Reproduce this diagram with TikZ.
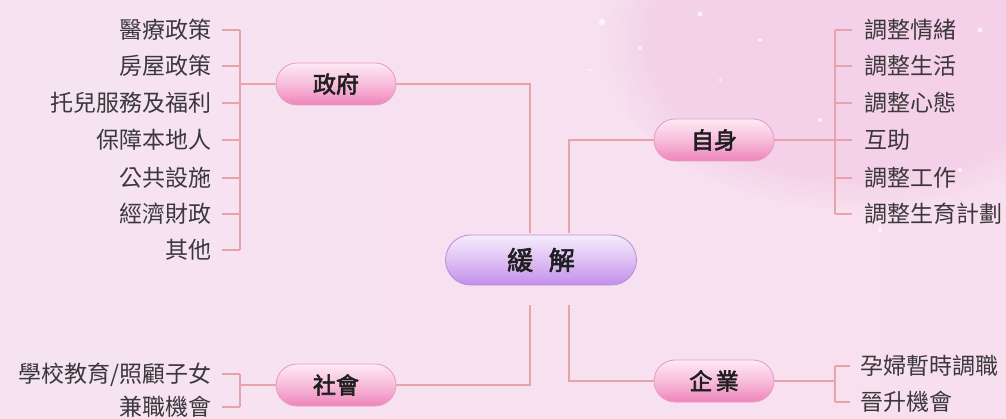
\documentclass[tikz,border=0pt]{standalone}
\usepackage{fontspec}
\setmainfont{Noto Sans CJK TC}
\newfontfamily\cjkbold{Noto Sans CJK TC}[FakeBold=2.5]
\usetikzlibrary{shapes.misc,fadings}
\definecolor{bgA}{HTML}{F6E3F1}
\definecolor{bgB}{HTML}{FCF2F8}
\definecolor{bgC}{HTML}{F8DFEF}
\definecolor{glow}{HTML}{F0C0E0}
\definecolor{linec}{HTML}{E8A2AA}
\definecolor{leafc}{HTML}{3A383A}
\definecolor{pinkT}{HTML}{FDEAF4}
\definecolor{pinkM}{HTML}{F8BDDB}
\definecolor{pinkB}{HTML}{EE84BB}
\definecolor{pinkD}{HTML}{E79BC4}
\definecolor{purT}{HTML}{F6EDFC}
\definecolor{purM}{HTML}{DEC0F4}
\definecolor{purB}{HTML}{C28FE9}
\definecolor{purD}{HTML}{B88CDD}
\tikzset{
  conn/.style={draw=linec, line width=2pt},
  leafL/.style={anchor=east, inner sep=0pt, text=leafc, font=\fontsize{23}{24}\selectfont, text height=20.2pt, text depth=2.8pt},
  leafR/.style={anchor=west, inner sep=0pt, text=leafc, font=\fontsize{23}{24}\selectfont, text height=20.2pt, text depth=2.8pt},
  pill/.style={rounded rectangle, draw=pinkD, line width=0.8pt, top color=pinkT, bottom color=pinkB, middle color=pinkM,
    minimum width=120pt, minimum height=42pt, inner sep=0pt, text=black!88,
    font=\cjkbold\fontsize{23}{24}\selectfont},
  cpill/.style={rounded rectangle, draw=purD, line width=0.8pt, top color=purT, bottom color=purB, middle color=purM,
    minimum width=191pt, minimum height=50pt, inner sep=0pt, text=black!88,
    font=\cjkbold\fontsize{26}{28}\selectfont}
}
\begin{document}
\begin{tikzpicture}[x=1pt,y=-1pt]
\useasboundingbox (0,0) rectangle (1006,419);
% background
\shade[left color=bgA, middle color=bgB, right color=bgC] (0,0) rectangle (1006,419);
\fill[glow, opacity=0.45, path fading=circle with fuzzy edge 20 percent] (860,40) ellipse (260 and 170);
\foreach \p/\r in {{(602,22)/3},{(640,48)/2},{(700,14)/2.5},{(760,40)/2},{(890,60)/3},{(940,110)/2},{(980,30)/2.5},{(820,120)/2},{(960,170)/2},{(720,80)/1.5},{(590,70)/1.5},{(880,230)/2}}
  \fill[white, opacity=0.7] \p circle (\r);

% main nodes
\node[cpill] (c) at (541,260) {緩\hspace{0.6em}解};
\node[pill] (g) at (336,84) {政府};
\node[pill] (s) at (714,140) {自身};
\node[pill] (so) at (336,385) {社會};
\node[pill] (e) at (714,381) {企\hspace{0.15em}業};

% trunk coordinates
\coordinate (tl) at (530,233);
\coordinate (tr) at (569,233);
\coordinate (bl) at (530,305);
\coordinate (br) at (569,305);
\draw[conn] (g.east) -- (g.east -| tl) -- (tl);
\draw[conn] (s.west) -- (s.west -| tr) -- (tr);
\draw[conn] (so.east) -- (so.east -| bl) -- (bl);
\draw[conn] (e.west) -- (e.west -| br) -- (br);

% government leaves
\coordinate (gb) at (240,84);
\node[leafL] (g1) at (212,30) {醫療政策};
\node[leafL] (g2) at (212,66) {房屋政策};
\node[leafL] (g3) at (212,103) {托兒服務及福利};
\node[leafL] (g4) at (212,140) {保障本地人};
\node[leafL] (g5) at (212,178) {公共設施};
\node[leafL] (g6) at (212,214) {經濟財政};
\node[leafL] (g7) at (212,250) {其他};
\draw[conn] (g.west) -- (gb);
\draw[conn] (g1.east -| gb) -- (g7.east -| gb);
\foreach \n in {g1,g2,g3,g4,g5,g6,g7}
  \draw[conn, shorten <=10pt] (\n.east) -- (\n.east -| gb);

% self leaves
\coordinate (sb) at (835,140);
\node[leafR] (s1) at (864,30) {調整情緒};
\node[leafR] (s2) at (864,66) {調整生活};
\node[leafR] (s3) at (864,103) {調整心態};
\node[leafR] (s4) at (864,140) {互助};
\node[leafR] (s5) at (864,178) {調整工作};
\node[leafR] (s6) at (864,214) {調整生育計劃};
\draw[conn] (s.east) -- (sb);
\draw[conn] (s1.west -| sb) -- (s6.west -| sb);
\foreach \n in {s1,s2,s3,s4,s5,s6}
  \draw[conn, shorten <=12pt] (\n.west) -- (\n.west -| sb);

% society leaves
\coordinate (sob) at (240,385);
\node[leafL] (o1) at (212,374) {學校教育/照顧子女};
\node[leafL] (o2) at (212,407) {兼職機會};
\draw[conn] (so.west) -- (sob);
\draw[conn] (o1.east -| sob) -- (o2.east -| sob);
\foreach \n in {o1,o2}
  \draw[conn, shorten <=10pt] (\n.east) -- (\n.east -| sob);

% enterprise leaves
\coordinate (eb) at (835,381);
\node[leafR] (e1) at (860,366) {孕婦暫時調職};
\node[leafR] (e2) at (860,402) {晉升機會};
\draw[conn] (e.east) -- (eb);
\draw[conn] (e1.west -| eb) -- (e2.west -| eb);
\foreach \n in {e1,e2}
  \draw[conn, shorten <=10pt] (\n.west) -- (\n.west -| eb);
\end{tikzpicture}
\end{document}
